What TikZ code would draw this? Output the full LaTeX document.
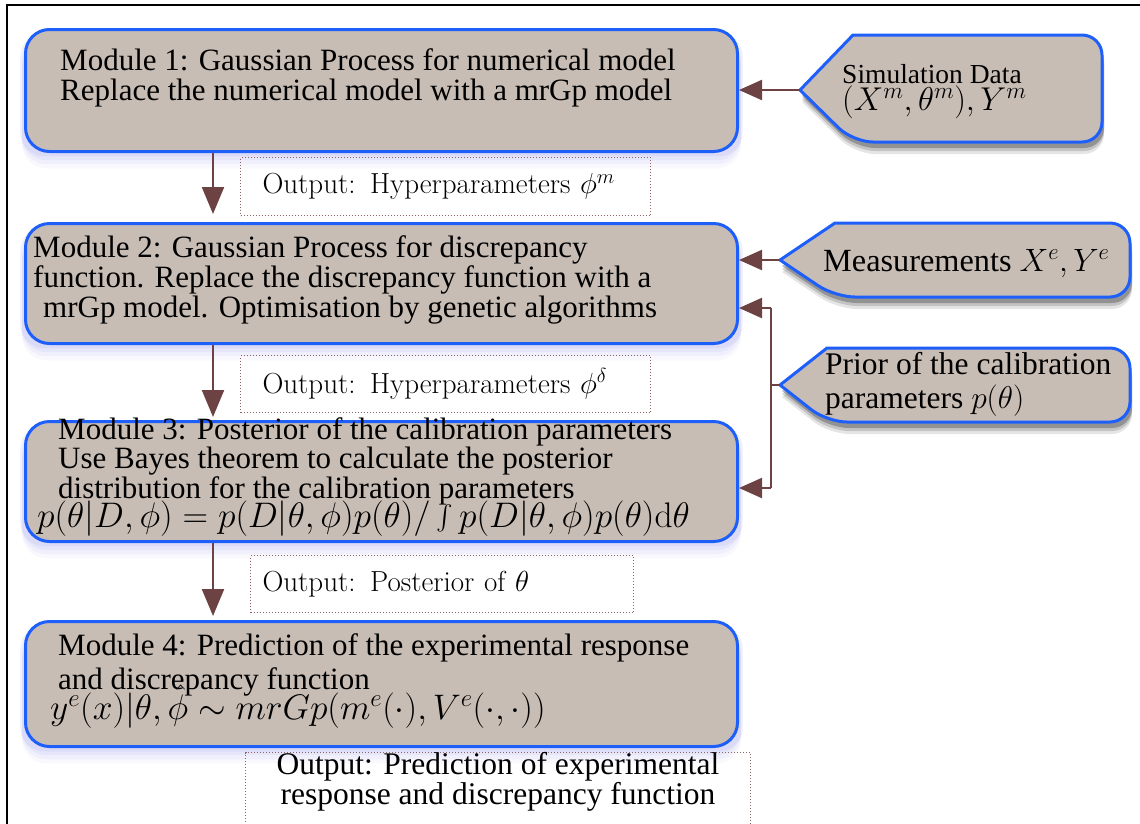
\RequirePackage{fix-cm}
\documentclass[tikz,border=0pt]{standalone}
\usepackage{exscale}
\usepackage[no-math]{fontspec}
\setmainfont{Liberation Serif}
\newfontfamily\lmr{Latin Modern Roman}
\usetikzlibrary{arrows.meta,shadows}
\definecolor{boxfill}{RGB}{200,189,181}
\definecolor{boxblue}{RGB}{30,95,250}
\definecolor{arrbrown}{RGB}{108,66,66}
\definecolor{dotc}{RGB}{140,100,100}
\definecolor{glow}{RGB}{115,115,225}
\tikzset{
  module/.style={draw=boxblue, line width=3pt, fill=boxfill, rounded corners=24pt,
    anchor=north west, inner sep=0pt,
    general shadow={draw=none, fill=glow, opacity=0.05, shadow yshift=-16pt, shadow scale=1.01},
    general shadow={draw=none, fill=glow, opacity=0.06, shadow yshift=-12pt, shadow scale=1.01},
    general shadow={draw=none, fill=glow, opacity=0.08, shadow yshift=-8pt, shadow scale=1.01},
    general shadow={draw=none, fill=glow, opacity=0.10, shadow yshift=-4pt, shadow scale=1.015}},
  pent/.style={draw=boxblue, line width=3pt, fill=boxfill,
    general shadow={draw=none, fill=black, opacity=0.10, shadow xshift=2pt, shadow yshift=-12pt},
    general shadow={draw=none, fill=black, opacity=0.15, shadow xshift=2pt, shadow yshift=-9pt},
    general shadow={draw=none, fill=black, opacity=0.25, shadow xshift=2pt, shadow yshift=-6pt}},
  mtext/.style={anchor=base west, align=left, inner sep=0pt,
    font=\fontsize{31}{30}\selectfont},
  mathtext/.style={anchor=base west, inner sep=0pt, font=\fontsize{35.5}{36}\selectfont},
  outbox/.style={draw=dotc, dotted, line width=1pt, anchor=north west,
    inner sep=0pt, font=\lmr\fontsize{29}{32}\selectfont},
  flow/.style={draw=arrbrown, line width=2.2pt, -{Triangle[length=27pt,width=22pt]}},
  side/.style={draw=arrbrown, line width=2.2pt, -{Triangle[length=23pt,width=20pt]}},
  plain/.style={draw=arrbrown, line width=2.2pt},
}
\begin{document}
\begin{tikzpicture}[x=1pt,y=-1pt]
\useasboundingbox (0,0) rectangle (1140,823);
% frame
\draw[line width=2.5pt] (7,830) -- (7,5) -- (1140,5);

% modules
\node[module, minimum width=712pt, minimum height=122pt] (m1) at (24,28) {};
\node[module, minimum width=712pt, minimum height=120pt] (m2) at (24,222) {};
\node[module, minimum width=712pt, minimum height=120pt] (m3) at (24,420) {};
\node[module, minimum width=712pt, minimum height=125pt] (m4) at (24,620) {};

\node[mtext] (m1t) at (60,100) {Module 1: Gaussian Process for numerical model\\Replace the numerical model with a mrGp model};
\node[mtext] (m2t) at (33,317) {Module 2: Gaussian Process for discrepancy\\function. Replace the discrepancy function with a\\\hspace*{10pt}mrGp model. Optimisation by genetic algorithms};
\node[mtext, font=\fontsize{31}{27}\selectfont] (m3t) at (58,498) {Module 3: Posterior of the calibration parameters\\Use Bayes theorem to calculate the posterior\\distribution for the calibration parameters};
\node[mathtext] (m3f) at (37,527) {$p(\theta|D,\phi)=p(D|\theta,\phi)p(\theta)/\int p(D|\theta,\phi)p(\theta)\mathrm{d}\theta$};
\node[mtext, font=\fontsize{31}{34}\selectfont] (m4t) at (58,689) {Module 4: Prediction of the experimental response\\and discrepancy function};
\node[mathtext] (m4f) at (50,719) {$y^e(x)|\theta,\hat{\phi}\sim mrGp(m^e(\cdot),V^e(\cdot,\cdot))$};

% output boxes
\node[outbox, minimum width=410pt, minimum height=58pt, text width=366pt, align=left] (o1) at (240,157) {Output: Hyperparameters $\phi^m$};
\node[outbox, minimum width=410pt, minimum height=57pt, text width=366pt, align=left] (o2) at (240,355) {Output: Hyperparameters $\phi^\delta$};
\node[outbox, minimum width=383pt, minimum height=57pt, text width=359pt, align=left] (o3) at (250,555) {Output: Posterior of $\theta$};
\node[draw=dotc, dotted, line width=1pt, anchor=north west, inner sep=0pt,
  minimum width=505pt, minimum height=84pt, align=center,
  font=\fontsize{31.5}{24}\selectfont] (o4) at (245,752) {Output: Prediction of experimental\\response and discrepancy function\\[9pt]};

% vertical flow arrows
\coordinate (ax) at (213,0);
\draw[flow] (m1.south -| ax) -- ([yshift=8pt]m2.north -| ax);
\draw[flow] (m2.south -| ax) -- ([yshift=3pt]m3.north -| ax);
\draw[flow] (m3.south -| ax) -- ([yshift=4pt]m4.north -| ax);

% input pentagons
\path[pent] (853,35) [rounded corners=20pt] -- (1102,35) -- (1102,142) -- (853,142) [sharp corners] -- (800,90) -- cycle;
\coordinate (simtip) at (800,90);
\node[mtext, font=\fontsize{27.5}{29}\selectfont] (sim) at (842,83) {Simulation Data};
\node[mtext, font=\fontsize{33}{33}\selectfont] (simb) at (842,110) {$(X^m,\theta^m),Y^m$};

\path[pent] (835,223) [rounded corners=20pt] -- (1130,223) -- (1130,297) -- (835,297) [sharp corners] -- (780,260) -- cycle;
\coordinate (meastip) at (780,260);
\node[mtext, font=\fontsize{32.3}{32}\selectfont] (meas) at (823,271) {Measurements $X^e,Y^e$};

\path[pent] (827,348) [rounded corners=20pt] -- (1130,348) -- (1130,422) -- (827,422) [sharp corners] -- (780,385) -- cycle;
\coordinate (priortip) at (780,385);
\node[mtext, font=\fontsize{31.5}{34}\selectfont] (prior) at (825,408) {Prior of the calibration\\parameters $p(\theta)$};

% side connectors
\draw[side] (simtip) -- (simtip -| m1.east);
\draw[side] (meastip) -- (meastip -| m2.east);
\coordinate (j1) at (771,308);
\coordinate (j2) at (771,488);
\draw[plain] (priortip) -- (priortip -| j1);
\draw[plain] (j1) -- (j2);
\draw[side] (j1) -- (j1 -| m2.east);
\draw[side] (j2) -- (j2 -| m3.east);
\end{tikzpicture}
\end{document}
